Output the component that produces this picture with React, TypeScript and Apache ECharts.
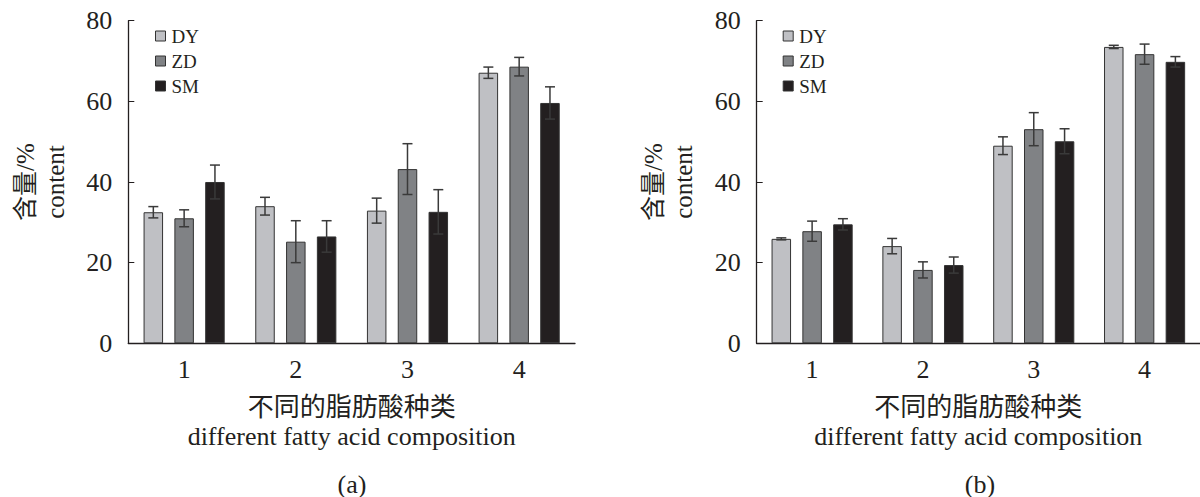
import React, { useEffect, useRef } from 'react';
import * as echarts from 'echarts';

const categories = ['1', '2', '3', '4'];
const seriesNames = ['DY', 'ZD', 'SM'];
const yTicks = [0, 20, 40, 60, 80];

// panel (a)
const aDY = [32.5, 34.0, 32.9, 67.1];
const aZD = [31.0, 25.2, 43.2, 68.6];
const aSM = [40.0, 26.5, 32.6, 59.6];
const aDYErr = [1.4, 2.2, 3.1, 1.4];
const aZDErr = [2.1, 5.2, 6.3, 2.3];
const aSMErr = [4.2, 3.9, 5.5, 4.0];

// panel (b)
const bDY = [25.9, 24.1, 49.0, 73.5];
const bZD = [27.8, 18.2, 53.1, 71.7];
const bSM = [29.5, 19.4, 50.1, 69.8];
const bDYErr = [0.25, 1.9, 2.2, 0.4];
const bZDErr = [2.5, 2.0, 4.1, 2.5];
const bSMErr = [1.4, 2.0, 3.1, 1.3];

const FONT = '"Liberation Serif", "Times New Roman", "Noto Sans CJK SC", serif';
const TEXT = '#231f20';
const COLORS = ['#bfc0c4', '#808285', '#231f20'];
const BAR_W = 19.5;
const BAR_GAP = 0.58;
const OFF = BAR_W * (1 + BAR_GAP);

function barSeries(idx: number, vals: number[][]) {
  return vals.map((v, s) => ({
    type: 'bar',
    name: seriesNames[s],
    xAxisIndex: idx,
    yAxisIndex: idx,
    data: v,
    barWidth: BAR_W,
    barGap: `${BAR_GAP * 100}%`,
    itemStyle: { color: COLORS[s], borderColor: '#333333', borderWidth: 1 },
    z: 2,
  }));
}

function errSeries(idx: number, vals: number[][], errs: number[][]) {
  const data: number[][] = [];
  vals.forEach((v, s) => v.forEach((val, c) => data.push([c, s, val, errs[s][c]])));
  return {
    type: 'custom',
    xAxisIndex: idx,
    yAxisIndex: idx,
    z: 5,
    silent: true,
    clip: false,
    encode: { x: 0, y: 2 },
    data,
    renderItem: (params: any, api: any) => {
      const c = api.value(0);
      const s = api.value(1);
      const v = api.value(2);
      const e = api.value(3);
      const top = api.coord([c, v + e]);
      const bot = api.coord([c, v - e]);
      const x = top[0] + (s - 1) * OFF;
      const style = { stroke: '#3a3a3a', lineWidth: 1.5 };
      return {
        type: 'group',
        children: [
          { type: 'line', shape: { x1: x, y1: top[1], x2: x, y2: bot[1] }, style },
          { type: 'line', shape: { x1: x - 5, y1: top[1], x2: x + 5, y2: top[1] }, style },
          { type: 'line', shape: { x1: x - 5, y1: bot[1], x2: x + 5, y2: bot[1] }, style },
        ],
      };
    },
  };
}

function xAxis(idx: number) {
  return {
    type: 'category',
    gridIndex: idx,
    data: categories,
    axisLine: { lineStyle: { color: TEXT, width: 1.3 } },
    axisTick: { inside: true, length: 6, alignWithLabel: false, lineStyle: { color: TEXT } },
    axisLabel: { fontSize: 26, margin: 13, color: TEXT, fontFamily: FONT },
    name: '不同的脂肪酸种类\ndifferent fatty acid composition',
    nameLocation: 'middle',
    nameGap: 50,
    nameTextStyle: { fontSize: 26, lineHeight: 29, color: TEXT, fontFamily: FONT },
  };
}

function yAxis(idx: number) {
  return {
    type: 'value',
    gridIndex: idx,
    min: yTicks[0],
    max: yTicks[yTicks.length - 1],
    interval: 20,
    splitLine: { show: false },
    axisLine: { show: true, lineStyle: { color: TEXT, width: 1.3 } },
    axisTick: { show: true, inside: true, length: 6, lineStyle: { color: TEXT } },
    axisLabel: { fontSize: 26, margin: 16, color: TEXT, fontFamily: FONT },
    name: '含量/%\ncontent',
    nameLocation: 'middle',
    nameRotate: 90,
    nameGap: 58,
    nameTextStyle: { fontSize: 25, lineHeight: 30, color: TEXT, fontFamily: FONT },
  };
}

function legend(left: number) {
  return {
    data: seriesNames,
    orient: 'vertical',
    left,
    top: 26.5,
    padding: 0,
    itemWidth: 10,
    itemHeight: 10,
    itemGap: 6,
    icon: 'rect',
    selectedMode: false,
    itemStyle: { borderColor: '#333333', borderWidth: 1 },
    textStyle: { fontSize: 19, lineHeight: 19, color: TEXT, fontFamily: FONT, padding: [0, 0, 0, 1] },
  };
}

export default function App() {
  const ref = useRef<HTMLDivElement>(null);
  useEffect(() => {
    document.body.style.margin = '0';
    const chart = echarts.init(ref.current!, undefined, { renderer: 'svg' });
    chart.setOption({
      animation: false,
      backgroundColor: '#ffffff',
      grid: [
        { left: 128.3, top: 20.7, width: 446.7, height: 322.6 },
        { left: 756.7, top: 20.7, width: 446.7, height: 322.6 },
      ],
      xAxis: [xAxis(0), xAxis(1)],
      yAxis: [yAxis(0), yAxis(1)],
      legend: [legend(155), legend(782.7)],
      series: [
        ...barSeries(0, [aDY, aZD, aSM]),
        errSeries(0, [aDY, aZD, aSM], [aDYErr, aZDErr, aSMErr]),
        ...barSeries(1, [bDY, bZD, bSM]),
        errSeries(1, [bDY, bZD, bSM], [bDYErr, bZDErr, bSMErr]),
      ],
      graphic: [
        { type: 'text', x: 352, y: 484, style: { text: '(a)', fontSize: 26, fill: TEXT, fontFamily: FONT, align: 'center', verticalAlign: 'middle' } },
        { type: 'text', x: 980, y: 484, style: { text: '(b)', fontSize: 26, fill: TEXT, fontFamily: FONT, align: 'center', verticalAlign: 'middle' } },
      ],
    });
    return () => chart.dispose();
  }, []);
  return <div ref={ref} style={{ position: 'absolute', left: 0, top: 0, width: 1200, height: 497 }} />;
}
